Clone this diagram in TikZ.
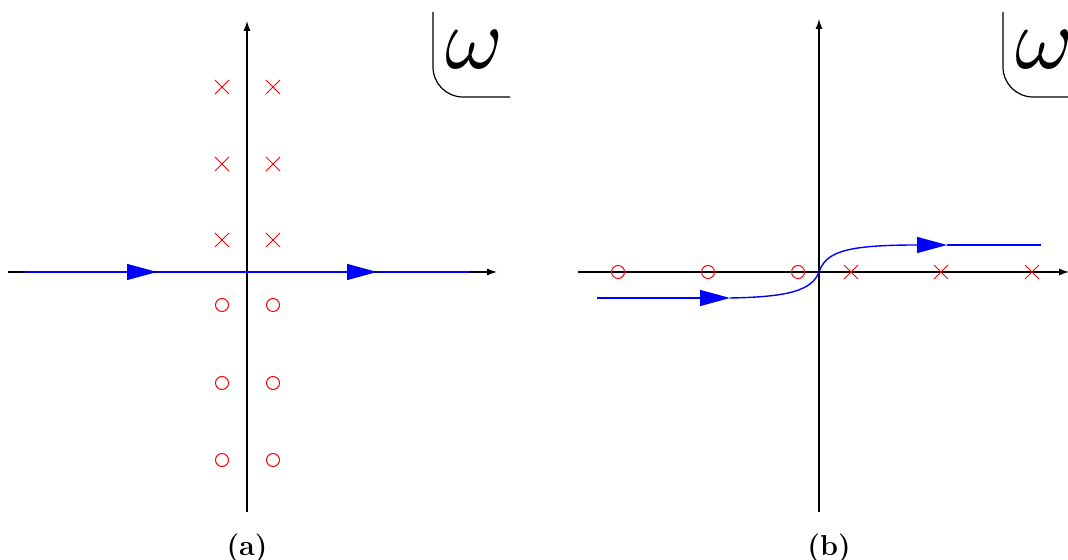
\documentclass[tikz,border=0pt]{standalone}
\usepackage{amsmath,amssymb}
\usetikzlibrary{arrows.meta,shapes.misc}

\begin{document}
\begin{tikzpicture}[x=0.5pt,y=0.5pt,font=\Large,axis/.style={-{Latex[length=5pt,width=3.5pt]},line width=0.6pt},flow/.style={blue,line width=0.7pt,-{Triangle[length=15pt,width=8pt]}},path/.style={blue,line width=0.7pt},pole/.style={draw=red,cross out,minimum size=6.5pt,inner sep=0pt,line width=0.5pt},zero/.style={draw=red,circle,minimum size=6.5pt,inner sep=0pt,line width=0.5pt},corner/.style={line width=0.6pt,rounded corners=15pt},omega/.style={inner sep=0pt,font=\normalsize}]
\useasboundingbox (0,0) rectangle (1068,560);
\clip (0,0) rectangle (1068,560);
% (a)
\coordinate (xa0) at (8,288);
\coordinate (xa1) at (497,288);
\coordinate (ya0) at (247,48);
\coordinate (ya1) at (247,539);
\draw[axis] (xa0) -- (xa1);
\draw[axis] (ya0) -- (ya1);
\coordinate (la0) at (25,288);
\coordinate (la1) at (157,288);
\coordinate (la2) at (377,288);
\coordinate (la3) at (470,288);
\draw[flow] (la0) -- (la1);
\draw[flow] (la1) -- (la2);
\draw[path] (la2) -- (la3);
\node[pole] (pa1) at (222,473) {};
\node[pole] (pa2) at (273,473) {};
\node[pole] (pa3) at (222,396) {};
\node[pole] (pa4) at (273,396) {};
\node[pole] (pa5) at (222,320) {};
\node[pole] (pa6) at (273,320) {};
\node[zero] (za1) at (222,255) {};
\node[zero] (za2) at (273,255) {};
\node[zero] (za3) at (222,177) {};
\node[zero] (za4) at (273,177) {};
\node[zero] (za5) at (222,100) {};
\node[zero] (za6) at (273,100) {};
\coordinate (wa0) at (433,548);
\coordinate (wa1) at (510,463);
\draw[corner] (wa0) |- (wa1);
\node[omega] (wa) at (474,510) {\scalebox{4.4}{$\omega$}};
\node (capa) at (247,12) {\textbf{(a)}};
% (b)
\coordinate (xb0) at (578,288);
\coordinate (xb1) at (1069,288);
\coordinate (yb0) at (819,48);
\coordinate (yb1) at (819,541);
\draw[axis] (xb0) -- (xb1);
\draw[axis] (yb0) -- (yb1);
\coordinate (lb0) at (597,262);
\coordinate (lb1) at (730,262);
\coordinate (ob) at (819,288);
\coordinate (lb2) at (947,315);
\coordinate (lb3) at (1041,315);
\draw[flow] (lb0) -- (lb1);
\draw[path] (lb1) .. controls (790,263) and (812,270) .. (ob);
\draw[flow] (ob) .. controls (826,308) and (845,315) .. (lb2);
\draw[path] (lb2) -- (lb3);
\node[zero] (zb1) at (618,288) {};
\node[zero] (zb2) at (708,288) {};
\node[zero] (zb3) at (798,288) {};
\node[pole] (pb1) at (851,288) {};
\node[pole] (pb2) at (941,288) {};
\node[pole] (pb3) at (1032,288) {};
\coordinate (wb0) at (1003,548);
\coordinate (wb1) at (1080,463);
\draw[corner] (wb0) |- (wb1);
\node[omega] (wb) at (1044,510) {\scalebox{4.4}{$\omega$}};
\node (capb) at (829,12) {\textbf{(b)}};
\end{tikzpicture}
\end{document}
